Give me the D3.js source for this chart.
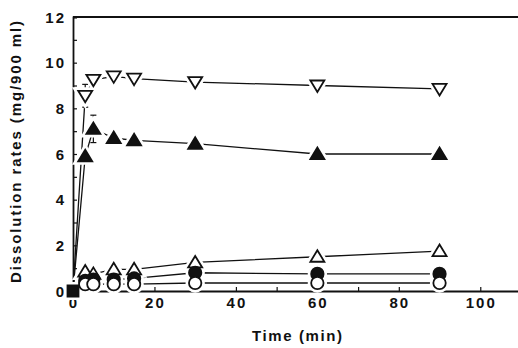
<!DOCTYPE html>
<html>
<head>
<meta charset="utf-8">
<script src="https://cdn.jsdelivr.net/npm/d3@7"></script>
<style>
  body { margin: 0; background: #fff; }
  text { font-family: "Liberation Sans", Arial, sans-serif; fill: #111; }
</style>
</head>
<body>
<div id="chart"></div>
<script>
// sampling times (min)
const times = [0, 3, 5, 10, 15, 30, 60, 90];

// dissolution rates (mg/900 ml), one array per formulation
const openDown     = [0, 8.55, 9.25, 9.4, 9.3, 9.15, 9.0, 8.85];
const filledUp     = [0, 5.9, 7.1, 6.7, 6.6, 6.45, 6.0, 6.0];
const openUp       = [0, 0.85, 0.75, 0.95, 0.95, 1.25, 1.5, 1.75];
const filledCircle = [0, 0.45, 0.5, 0.5, 0.55, 0.8, 0.75, 0.75];
const openCircle   = [0, 0.3, 0.3, 0.3, 0.3, 0.35, 0.35, 0.35];

// the drug alone, only sampled at t = 0
const squareTimes  = [0];
const squareVals   = [0];

// standard deviations visible on the steep part
const openDownSd   = [0, 0.5, 0, 0, 0, 0, 0, 0];
const filledUpSd   = [0, 0, 0.6, 0, 0, 0, 0, 0];

const xTicks = [0, 20, 40, 60, 80, 100];
const yTicks = [0, 2, 4, 6, 8, 10, 12];

const width  = 518;
const height = 348;

const svg = d3.select('#chart').append('svg')
    .attr('width', width)
    .attr('height', height);

const x = d3.scaleLinear().domain([0, 110]).range([73, 521]);
const y = d3.scaleLinear().domain([0, 12]).range([291, 17]);

const series = [
    { vals: openDown,     sd: openDownSd, shape: 'down',   fill: '#fff' },
    { vals: filledUp,     sd: filledUpSd, shape: 'up',     fill: '#111' },
    { vals: openUp,       sd: null,       shape: 'up',     fill: '#fff' },
    { vals: filledCircle, sd: null,       shape: 'circle', fill: '#111' },
    { vals: openCircle,   sd: null,       shape: 'circle', fill: '#fff' },
];

function shapePath(shape) {
    if (shape === 'up')   return 'M0,-6.5L7,5L-7,5Z';
    if (shape === 'down') return 'M0,6.5L7,-5L-7,-5Z';
    if (shape === 'square') return 'M-5.5,-5.5H5.5V5.5H-5.5Z';
    return d3.symbol(d3.symbolCircle, Math.PI * 6.2 * 6.2)();
}

// axes with small inward ticks
const xAxis = d3.axisBottom(x)
    .tickValues(d3.range(0, 111, 10))
    .tickSize(-4)
    .tickFormat(() => '');
const yAxis = d3.axisLeft(y)
    .tickValues(d3.range(0, 12.1, 1))
    .tickSize(-4)
    .tickFormat(() => '');

const gx = svg.append('g')
    .attr('transform', `translate(0,${y(0)})`)
    .call(xAxis);
const gy = svg.append('g')
    .attr('transform', `translate(${x(0)},0)`)
    .call(yAxis);

[gx, gy].forEach(g => {
    g.select('.domain').attr('stroke', '#111').attr('stroke-width', 1.8);
    g.selectAll('.tick line').attr('stroke', '#111').attr('stroke-width', 1.2);
});

// top border
svg.append('line')
    .attr('x1', x(0)).attr('x2', x(110))
    .attr('y1', y(12)).attr('y2', y(12))
    .attr('stroke', '#111').attr('stroke-width', 1.8);

// tick labels
svg.append('g').selectAll('text')
    .data(xTicks)
    .join('text')
    .attr('x', d => x(d) + 1)
    .attr('y', 308)
    .attr('text-anchor', 'middle')
    .attr('font-size', 15)
    .attr('font-weight', 'bold')
    .attr('letter-spacing', 2)
    .text(d => d);

svg.append('g').selectAll('text')
    .data(yTicks)
    .join('text')
    .attr('x', 66)
    .attr('y', d => y(d) + 5.5)
    .attr('text-anchor', 'end')
    .attr('font-size', 15)
    .attr('font-weight', 'bold')
    .attr('letter-spacing', 2)
    .text(d => d);

// axis titles
svg.append('text')
    .attr('x', 252)
    .attr('y', 341)
    .attr('font-size', 15)
    .attr('font-weight', 'bold')
    .attr('textLength', 90)
    .attr('lengthAdjust', 'spacing')
    .text('Time (min)');

svg.append('text')
    .attr('transform', 'translate(21,283) rotate(-90)')
    .attr('font-size', 15)
    .attr('font-weight', 'bold')
    .attr('textLength', 262)
    .attr('lengthAdjust', 'spacing')
    .text('Dissolution rates (mg/900 ml)');

const line = d3.line()
    .x(d => x(d[0]))
    .y(d => y(d[1]));

const plot = svg.append('g');

// connecting lines
series.forEach(s => {
    plot.append('path')
        .datum(times.map((t, i) => [t, s.vals[i]]))
        .attr('d', line)
        .attr('fill', 'none')
        .attr('stroke', '#111')
        .attr('stroke-width', 1.3);
});

// error bars
series.filter(s => s.sd).forEach(s => {
    const pts = times.map((t, i) => ({ t, v: s.vals[i], sd: s.sd[i] })).filter(p => p.sd > 0);
    const eb = plot.append('g').selectAll('g').data(pts).join('g')
        .attr('stroke', '#111').attr('stroke-width', 1.2);
    eb.append('line')
        .attr('x1', p => x(p.t)).attr('x2', p => x(p.t))
        .attr('y1', p => y(p.v - p.sd)).attr('y2', p => y(p.v + p.sd));
    eb.append('line')
        .attr('x1', p => x(p.t) - 3).attr('x2', p => x(p.t) + 3)
        .attr('y1', p => y(p.v + p.sd)).attr('y2', p => y(p.v + p.sd));
    eb.append('line')
        .attr('x1', p => x(p.t) - 3).attr('x2', p => x(p.t) + 3)
        .attr('y1', p => y(p.v - p.sd)).attr('y2', p => y(p.v - p.sd));
});

const markerData = [];
series.forEach(s => {
    times.forEach((t, i) => {
        if (t > 0) markerData.push({ t, v: s.vals[i], shape: s.shape, fill: s.fill });
    });
});
squareTimes.forEach((t, i) => {
    markerData.push({ t, v: squareVals[i], shape: 'square', fill: '#111' });
});

// white halos break the lines next to each marker
plot.append('g').selectAll('path')
    .data(markerData)
    .join('path')
    .attr('transform', d => `translate(${x(d.t)},${y(d.v)})`)
    .attr('d', d => shapePath(d.shape))
    .attr('fill', '#fff')
    .attr('stroke', '#fff')
    .attr('stroke-width', 7);

plot.append('g').selectAll('path')
    .data(markerData)
    .join('path')
    .attr('transform', d => `translate(${x(d.t)},${y(d.v)})`)
    .attr('d', d => shapePath(d.shape))
    .attr('fill', d => d.fill)
    .attr('stroke', '#111')
    .attr('stroke-width', 1.8);
</script>
</body>
</html>
